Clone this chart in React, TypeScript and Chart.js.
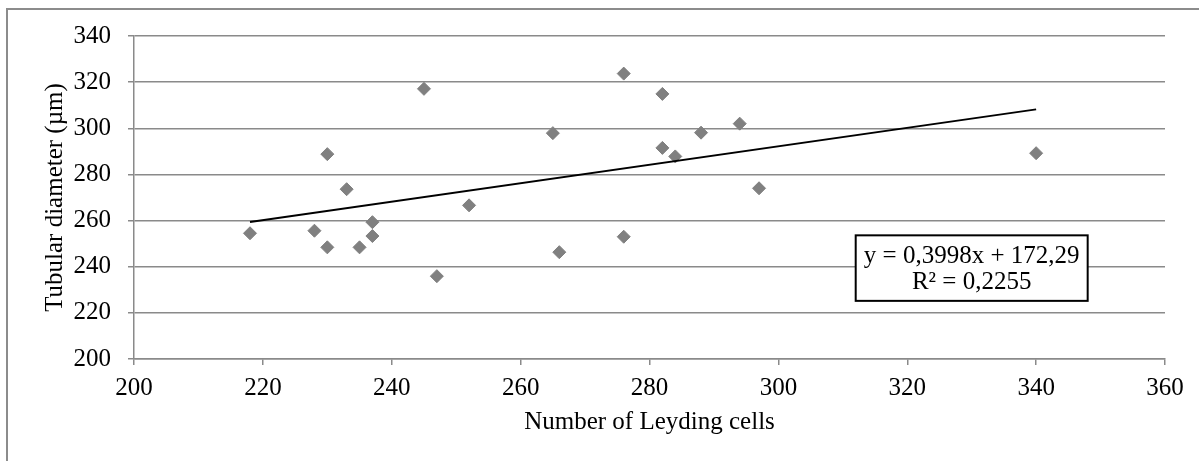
import React, { useEffect, useRef } from "react";
import { Chart, registerables } from "chart.js";

Chart.register(...registerables);

const leydigCells = [218, 228, 230, 230, 233, 235, 237, 237, 245, 247, 252, 265, 266, 276, 276, 282, 282, 284, 288, 294, 297, 340];
const tubularDiameter = [254.5, 255.6, 288.8, 248.4, 273.6, 248.4, 259.3, 253.3, 317.1, 235.9, 266.6, 297.9, 246.3, 323.7, 253, 314.9, 291.5, 287.8, 298.1, 302, 274, 289.2];
const trendX = [218, 340];
const trendY = [259.4, 308.2];
const equationLines = ["y = 0,3998x + 172,29", "R² = 0,2255"];
const xTitle = "Number of Leyding cells";
const yTitle = "Tubular diameter (µm)";

const FONT = "'Liberation Serif', 'Times New Roman', serif";
const GRID = "#8a8a8a";

export default function App() {
  const ref = useRef<HTMLCanvasElement | null>(null);

  useEffect(() => {
    const canvas = ref.current;
    if (!canvas) return;

    const framePlugin = {
      id: "frame",
      beforeDraw(chart: any) {
        const ctx = chart.ctx;
        ctx.save();
        ctx.fillStyle = "#fff";
        ctx.fillRect(0, 0, chart.width, chart.height);
        ctx.strokeStyle = "#8c8c8c";
        ctx.lineWidth = 2;
        ctx.strokeRect(7, 9, chart.width + 50, chart.height + 50);
        ctx.restore();
      },
    };

    const equationPlugin = {
      id: "equation",
      afterDatasetsDraw(chart: any) {
        const ctx = chart.ctx;
        const xs = chart.scales.x;
        const ys = chart.scales.y;
        const left = xs.getPixelForValue(312);
        const right = xs.getPixelForValue(348);
        const top = ys.getPixelForValue(253.6);
        const bottom = ys.getPixelForValue(225.2);
        ctx.save();
        ctx.fillStyle = "#fff";
        ctx.fillRect(left, top, right - left, bottom - top);
        ctx.strokeStyle = "#000";
        ctx.lineWidth = 2;
        ctx.strokeRect(left, top, right - left, bottom - top);
        ctx.fillStyle = "#000";
        ctx.font = `25px ${FONT}`;
        ctx.textAlign = "center";
        ctx.textBaseline = "alphabetic";
        const cx = (left + right) / 2;
        ctx.fillText(equationLines[0], cx, top + 28);
        ctx.fillText(equationLines[1], cx, top + 54);
        ctx.restore();
      },
    };

    const chart = new Chart(canvas, {
      type: "scatter",
      data: {
        datasets: [
          {
            type: "line",
            label: "Trend",
            data: trendX.map((x, i) => ({ x, y: trendY[i] })),
            borderColor: "#000",
            borderWidth: 2,
            pointRadius: 0,
            fill: false,
            order: 0,
          } as any,
          {
            label: "Data",
            data: leydigCells.map((x, i) => ({ x, y: tubularDiameter[i] })),
            backgroundColor: "#808080",
            borderColor: "#808080",
            borderWidth: 1,
            pointStyle: "rectRot",
            pointRadius: 6.5,
            order: 1,
          },
        ],
      },
      options: {
        animation: false,
        responsive: false,
        events: [],
        layout: { padding: { top: 36, right: 34, left: 0, bottom: 0 } },
        plugins: {
          legend: { display: false },
          tooltip: { enabled: false },
        },
        scales: {
          x: {
            type: "linear",
            min: 200,
            max: 360,
            afterFit(scale: any) {
              scale.height = 102;
            },
            ticks: {
              stepSize: 20,
              padding: 8,
              color: "#000",
              font: { family: FONT, size: 25 },
              maxRotation: 0,
            },
            grid: {
              drawOnChartArea: false,
              drawTicks: true,
              tickLength: 6,
              color: GRID,
              lineWidth: 1.5,
            },
            border: { display: true, color: GRID, width: 1.5 },
            title: {
              display: true,
              text: xTitle,
              color: "#000",
              font: { family: FONT, size: 25 },
              padding: { top: 0, bottom: 24 },
            },
          },
          y: {
            type: "linear",
            min: 200,
            max: 340,
            afterFit(scale: any) {
              scale.width = 134;
            },
            ticks: {
              stepSize: 20,
              padding: 17,
              color: "#000",
              font: { family: FONT, size: 25 },
            },
            grid: {
              drawOnChartArea: true,
              drawTicks: true,
              tickLength: 6,
              color: GRID,
              lineWidth: 1.5,
            },
            border: { display: true, color: GRID, width: 1.5 },
            title: {
              display: true,
              text: yTitle,
              color: "#000",
              font: { family: FONT, size: 25 },
              padding: { top: 40, bottom: 0 },
            },
          },
        },
      },
      plugins: [framePlugin, equationPlugin],
    });

    return () => chart.destroy();
  }, []);

  return (
    <div style={{ position: "absolute", left: 0, top: 0, width: 1199, height: 461 }}>
      <canvas ref={ref} width={1199} height={461} />
    </div>
  );
}
